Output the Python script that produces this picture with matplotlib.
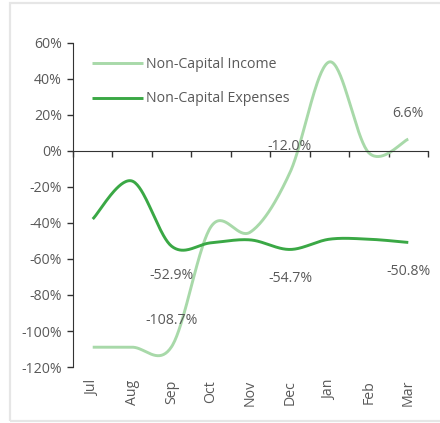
import numpy as np
import matplotlib
matplotlib.use("Agg")
import matplotlib.pyplot as plt
from matplotlib.patches import Rectangle

plt.rcParams['font.family'] = ['Open Sans', 'DejaVu Sans']

# ── data ─────────────────────────────────────
months = ["Jul", "Aug", "Sep", "Oct", "Nov", "Dec", "Jan", "Feb", "Mar"]
income = [-109.0, -109.0, -108.7, -42.0, -45.0, -12.0, 49.5, -1.0, 6.6]
expenses = [-37.8, -16.7, -52.9, -51.0, -49.4, -54.7, -49.0, -49.0, -50.8]
label_idx = [2, 5, 8]

c_income = "#a8d9a9"
c_exp = "#3aa845"
c_text = "#595959"
fs = 10.2


# Excel-like smoothed line: cubic bezier with control points from neighbours
def smooth(y, n=40):
    y = np.asarray(y, float)
    x = np.arange(len(y), dtype=float)
    xs, ys = [], []
    for i in range(len(y) - 1):
        i0, i3 = max(i - 1, 0), min(i + 2, len(y) - 1)
        p0 = np.array([x[i], y[i]])
        p3 = np.array([x[i + 1], y[i + 1]])
        p1 = p0 + (p3 - np.array([x[i0], y[i0]])) / 6
        p2 = p3 - (np.array([x[i3], y[i3]]) - p0) / 6
        t = np.linspace(0, 1, n)[:, None]
        pts = (1 - t)**3 * p0 + 3 * (1 - t)**2 * t * p1 + 3 * (1 - t) * t**2 * p2 + t**3 * p3
        xs.append(pts[:, 0]); ys.append(pts[:, 1])
    return np.concatenate(xs), np.concatenate(ys)


fig = plt.figure(figsize=(4.4, 4.23), dpi=100)
fig.patches.append(Rectangle((10 / 440, 2 / 423), 440 / 440, 418 / 423, transform=fig.transFigure,
                             fill=False, edgecolor="#e6e6e6", linewidth=1.6))
ax = fig.add_axes([73 / 440, 56 / 423, 355 / 440, 324 / 423])

xi, yi = smooth(income)
xe, ye = smooth(expenses)
ax.plot(xi, yi, color=c_income, lw=2.1, solid_capstyle="butt", label="Non-Capital Income")
ax.plot(xe, ye, color=c_exp, lw=2.1, solid_capstyle="butt", label="Non-Capital Expenses")

for i in label_idx:
    ax.annotate(f"{income[i]:.1f}%", (i, income[i]), xytext=(0, 18.8), textcoords="offset points",
                ha="center", va="center", fontsize=fs, color=c_text)
    ax.annotate(f"{expenses[i]:.1f}%", (i, expenses[i]), xytext=(0, -21), textcoords="offset points",
                ha="center", va="center", fontsize=fs, color=c_text)

ax.set_xlim(-0.5, len(months) - 0.5)
ax.set_ylim(-120, 60)
ax.set_yticks(np.arange(-120, 61, 20))
ax.set_yticklabels([f"{v}%" for v in range(-120, 61, 20)])
ax.tick_params(axis="y", direction="out", length=4, width=1, colors="#333333",
               labelcolor=c_text, labelsize=fs, pad=4)

for s in ["top", "right"]:
    ax.spines[s].set_visible(False)
ax.spines["left"].set_color("#333333")
ax.spines["bottom"].set_color("#333333")
ax.spines["bottom"].set_position(("data", 0))

ax.set_xticks(np.arange(-0.5, len(months), 1))
ax.set_xticklabels([])
ax.tick_params(axis="x", direction="out", length=4, width=1, colors="#333333")
for i, m in enumerate(months):
    ax.text(i, -0.04, m, transform=ax.get_xaxis_transform(), rotation=90,
            ha="center", va="top", fontsize=fs, color=c_text)

ax.legend(loc="upper left", bbox_to_anchor=(0.053, 0.957), frameon=False, fontsize=fs,
          handlelength=3.6, handletextpad=0.25, labelspacing=1.38, borderaxespad=0, borderpad=0,
          labelcolor=c_text)

fig.savefig("out.png", dpi=100)
